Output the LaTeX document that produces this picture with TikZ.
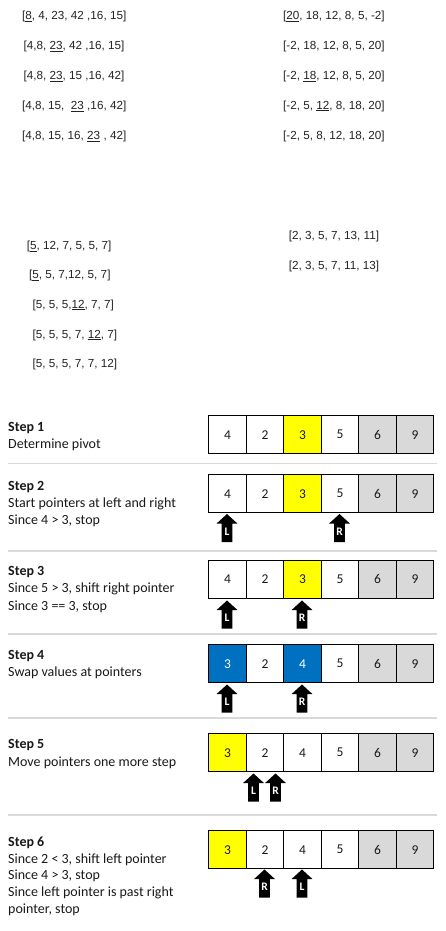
\documentclass[tikz,border=0pt]{standalone}
\usepackage{fontspec}
\setmainfont{Liberation Sans}
\newfontfamily\calfont{Carlito}
\definecolor{arrtext}{RGB}{35,35,35}
\definecolor{labtext}{RGB}{25,25,25}
\definecolor{cellgray}{RGB}{217,217,217}
\definecolor{sepgray}{RGB}{217,217,217}
\definecolor{swapblue}{RGB}{0,112,192}
\definecolor{pivyellow}{RGB}{255,255,0}
\newcommand\ptrarrow[4]{% cx, top, letter, name
  \fill[black] (#1,#2) -- ({#1+10.4},{#2+9.5}) -- ({#1+5.3},{#2+9.5}) -- ({#1+5.3},{#2+28}) -- ({#1-5.3},{#2+28}) -- ({#1-5.3},{#2+9.5}) -- ({#1-10.4},{#2+9.5}) -- cycle;
  \node[ptrlab] (#4) at (#1,{#2+17.5}) {#3};}
\newcommand\cellrow[8]{% top, prefix, six cell specs as style/value
  \foreach \st/\v [count=\i] in {#3,#4,#5,#6,#7,#8}{
    \node[cellbox,\st] (#2c\i) at ({208+37.5*(\i-1)},#1) {\v};}}
\begin{document}
\begin{tikzpicture}[x=1pt,y=-1pt,
  arr/.style={anchor=base west, inner sep=0pt, font=\fontsize{11.7}{14}\selectfont, text=arrtext},
  lab/.style={anchor=base west, inner sep=0pt, font=\calfont\fontsize{14}{16.7}\selectfont, text=labtext},
  ttl/.style={lab, font=\calfont\bfseries\fontsize{14}{16.7}\selectfont},
  cellbox/.style={draw=black, line width=1.4pt, minimum width=37.5pt, minimum height=38pt, inner sep=0pt, anchor=north west, font=\calfont\fontsize{13.5}{15}\selectfont, text=labtext},
  wh/.style={fill=white},
  yl/.style={fill=pivyellow},
  gr/.style={fill=cellgray},
  bl/.style={fill=swapblue, text=white},
  ptrlab/.style={inner sep=0pt, text=white, font=\calfont\bfseries\fontsize{11.5}{13}\selectfont},
  sep/.style={draw=sepgray, line width=1.4pt}]
\useasboundingbox (0,0) rectangle (446,931);
% top-left column
\node[arr] (a1) at (22,20) {[\underline{8}, 4, 23, 42 ,16, 15]};
\node[arr] (a2) at (23.3,49.3) {[4,8, \underline{23}, 42 ,16, 15]};
\node[arr] (a3) at (23.3,79.3) {[4,8, \underline{23}, 15 ,16, 42]};
\node[arr] (a4) at (22,109.3) {[4,8, 15,\ \ \underline{23}\ ,16, 42]};
\node[arr] (a5) at (22,139.3) {[4,8, 15, 16, \underline{23}\ , 42]};
% top-right column
\node[arr] (b1) at (283,20) {[\underline{20}, 18, 12, 8, 5, -2]};
\node[arr] (b2) at (283,49.3) {[-2, 18, 12, 8, 5, 20]};
\node[arr] (b3) at (283,79.3) {[-2, \underline{18}, 12, 8, 5, 20]};
\node[arr] (b4) at (283,109.3) {[-2, 5, \underline{12}, 8, 18, 20]};
\node[arr] (b5) at (283,139.3) {[-2, 5, 8, 12, 18, 20]};
% middle-left column
\node[arr] (c1) at (26.7,249.2) {[\underline{5}, 12, 7, 5, 5, 7]};
\node[arr] (c2) at (29,278.5) {[\underline{5}, 5, 7,12, 5, 7]};
\node[arr] (c3) at (32.3,308.2) {[5, 5, 5,\underline{12}, 7, 7]};
\node[arr] (c4) at (32.3,338.2) {[5, 5, 5, 7, \underline{12}, 7]};
\node[arr] (c5) at (32.3,367.5) {[5, 5, 5, 7, 7, 12]};
% middle-right column
\node[arr] (d1) at (288.7,239.2) {[2, 3, 5, 7, 13, 11]};
\node[arr] (d2) at (288.7,269.2) {[2, 3, 5, 7, 11, 13]};
% separators
\draw[sep] (8,463.3) -- (437,463.3);
\draw[sep] (8,551) -- (437,551);
\draw[sep] (8,634) -- (437,634);
\draw[sep] (8,718) -- (437,718);
\draw[sep] (8,815) -- (437,815);
% step 1
\node[ttl] (s1t) at (8,431.5) {Step 1};
\node[lab] (s1l1) at (8,448.5) {Determine pivot};
\cellrow{415}{s1}{wh/4}{wh/2}{yl/3}{wh/5}{gr/6}{gr/9}
% step 2
\node[ttl] (s2t) at (8,490.5) {Step 2};
\node[lab] (s2l1) at (8,507.3) {Start pointers at left and right};
\node[lab] (s2l2) at (8,524) {Since 4 > 3, stop};
\cellrow{474}{s2}{wh/4}{wh/2}{yl/3}{wh/5}{gr/6}{gr/9}
\ptrarrow{227}{514}{L}{s2L}
\ptrarrow{339.5}{514}{R}{s2R}
% step 3
\node[ttl] (s3t) at (8,575.5) {Step 3};
\node[lab] (s3l1) at (8,592.5) {Since 5 > 3, shift right pointer};
\node[lab] (s3l2) at (8,610.2) {Since 3 == 3, stop};
\cellrow{559.5}{s3}{wh/4}{wh/2}{yl/3}{wh/5}{gr/6}{gr/9}
\ptrarrow{227}{600.5}{L}{s3L}
\ptrarrow{302}{600.5}{R}{s3R}
% step 4
\node[ttl] (s4t) at (8,659.5) {Step 4};
\node[lab] (s4l1) at (8,676.8) {Swap values at pointers};
\cellrow{644}{s4}{bl/3}{wh/2}{bl/4}{wh/5}{gr/6}{gr/9}
\ptrarrow{227}{684.5}{L}{s4L}
\ptrarrow{302}{684.5}{R}{s4R}
% step 5
\node[ttl] (s5t) at (8,748.8) {Step 5};
\node[lab] (s5l1) at (8,766.5) {Move pointers one more step};
\cellrow{733}{s5}{yl/3}{wh/2}{wh/4}{wh/5}{gr/6}{gr/9}
\ptrarrow{253.5}{773.5}{L}{s5L}
\ptrarrow{275.5}{773.5}{R}{s5R}
% step 6
\node[ttl] (s6t) at (8,846.5) {Step 6};
\node[lab] (s6l1) at (8,863) {Since 2 < 3, shift left pointer};
\node[lab] (s6l2) at (8,879.7) {Since 4 > 3, stop};
\node[lab] (s6l3) at (8,896.4) {Since left pointer is past right};
\node[lab] (s6l4) at (8,913) {pointer, stop};
\cellrow{830}{s6}{yl/3}{wh/2}{wh/4}{wh/5}{gr/6}{gr/9}
\ptrarrow{264.5}{869.5}{R}{s6R}
\ptrarrow{302}{869.5}{L}{s6L}
\end{tikzpicture}
\end{document}
